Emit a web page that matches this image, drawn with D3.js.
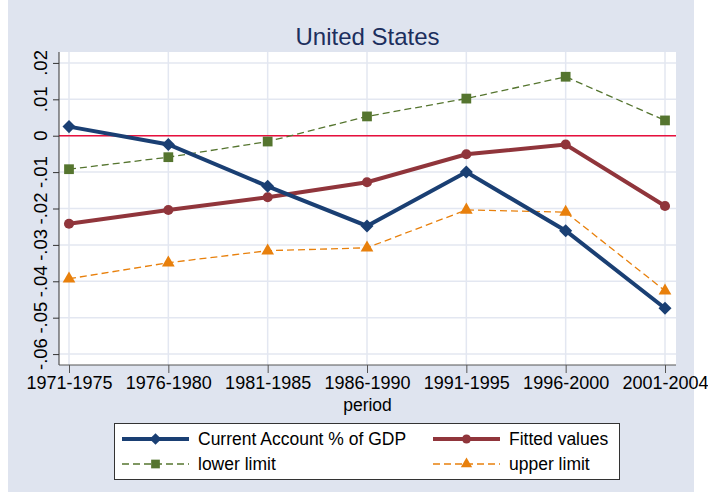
<!DOCTYPE html>
<html>
<head>
<meta charset="utf-8">
<script src="https://cdn.jsdelivr.net/npm/d3@7"></script>
<style>
  body { margin: 0; background: #fff; }
  text { font-family: "Liberation Sans", Arial, sans-serif; }
</style>
</head>
<body>
<script>
var periods = ['1971-1975', '1976-1980', '1981-1985', '1986-1990', '1991-1995', '1996-2000', '2001-2004'];
var currentAccount = [0.0025, -0.0024, -0.0139, -0.0248, -0.0100, -0.0261, -0.0474];
var fitted = [-0.0242, -0.0204, -0.0169, -0.0128, -0.0051, -0.0024, -0.0193];
var lowerLimit = [-0.0092, -0.0059, -0.0016, 0.0053, 0.0102, 0.0162, 0.0042];
var upperLimit = [-0.0393, -0.0349, -0.0316, -0.0308, -0.0204, -0.0210, -0.0426];
var yTicks = [0.02, 0.01, 0, -0.01, -0.02, -0.03, -0.04, -0.05, -0.06];
var yTickLabels = ['.02', '.01', '0', '-.01', '-.02', '-.03', '-.04', '-.05', '-.06'];

var width = 708, height = 502;
var plot = { left: 59, right: 676, top: 52, bottom: 365 };
var fontSize = '17.5px';

var svg = d3.select('body').append('svg')
  .attr('width', width)
  .attr('height', height);

// graph region
svg.append('rect')
  .attr('x', 8).attr('y', 0)
  .attr('width', 686).attr('height', 492)
  .attr('fill', '#dfe4ef');

svg.append('rect')
  .attr('x', plot.left).attr('y', plot.top)
  .attr('width', plot.right - plot.left).attr('height', plot.bottom - plot.top)
  .attr('fill', '#fff');

var x = d3.scalePoint().domain(periods).range([69, 665]);
var y = d3.scaleLinear().domain([-0.063, 0.023]).range([plot.bottom, plot.top]);

// grid
svg.append('g').selectAll('line')
  .data(yTicks)
  .enter().append('line')
  .attr('x1', plot.left).attr('x2', plot.right)
  .attr('y1', function(d) { return y(d); })
  .attr('y2', function(d) { return y(d); })
  .attr('stroke', '#e3e7f1')
  .attr('stroke-width', 1.5);

svg.append('g').selectAll('line')
  .data(periods)
  .enter().append('line')
  .attr('x1', function(d) { return x(d); })
  .attr('x2', function(d) { return x(d); })
  .attr('y1', plot.top).attr('y2', plot.bottom)
  .attr('stroke', '#e3e7f1')
  .attr('stroke-width', 1.5);

// zero line
svg.append('line')
  .attr('x1', plot.left).attr('x2', plot.right)
  .attr('y1', y(0)).attr('y2', y(0))
  .attr('stroke', '#e8103c')
  .attr('stroke-width', 1.5);

// axes
var yAxis = d3.axisLeft(y)
  .tickValues(yTicks)
  .tickSize(6)
  .tickFormat('');
var gy = svg.append('g')
  .attr('transform', 'translate(' + plot.left + ',0)')
  .call(yAxis);
gy.select('.domain').attr('stroke', '#333').attr('d', 'M0,' + plot.top + 'V' + plot.bottom);
gy.selectAll('.tick line').attr('stroke', '#333');

svg.append('g').selectAll('text')
  .data(yTicks)
  .enter().append('text')
  .attr('transform', function(d) { return 'translate(47,' + y(d) + ') rotate(-90)'; })
  .attr('text-anchor', 'middle')
  .style('font-size', '18.5px')
  .attr('fill', '#000')
  .text(function(d, i) { return yTickLabels[i]; });

var xAxis = d3.axisBottom(x).tickSize(8).tickSizeOuter(0);
var gx = svg.append('g')
  .attr('transform', 'translate(0,' + plot.bottom + ')')
  .call(xAxis);
gx.select('.domain').attr('stroke', '#555').attr('d', 'M' + plot.left + ',0H' + plot.right);
gx.selectAll('.tick line').attr('stroke', '#555');
gx.selectAll('.tick text')
  .attr('y', 11)
  .attr('fill', '#000')
  .style('font-size', '18px')
  .style('font-family', '"Liberation Sans", Arial, sans-serif');

svg.append('text')
  .attr('x', (plot.left + plot.right) / 2)
  .attr('y', 411)
  .attr('text-anchor', 'middle')
  .style('font-size', fontSize)
  .text('period');

svg.append('text')
  .attr('x', (plot.left + plot.right) / 2)
  .attr('y', 45)
  .attr('text-anchor', 'middle')
  .style('font-size', '24px')
  .attr('fill', '#1c2f5e')
  .text('United States');

// series
var series = [
  { name: 'lower limit', values: lowerLimit, color: '#55752f', width: 1.3, dash: '7,4', symbol: d3.symbolSquare, size: 95, rot: 0 },
  { name: 'upper limit', values: upperLimit, color: '#e8800c', width: 1.3, dash: '7,4', symbol: d3.symbolTriangle, size: 70, rot: 0 },
  { name: 'Fitted values', values: fitted, color: '#90353b', width: 4, dash: null, symbol: d3.symbolCircle, size: 80, rot: 0 },
  { name: 'Current Account % of GDP', values: currentAccount, color: '#1a3f73', width: 4, dash: null, symbol: d3.symbolSquare, size: 85, rot: 45 }
];

var line = d3.line()
  .x(function(d, i) { return x(periods[i]); })
  .y(function(d) { return y(d); });

series.forEach(function(s) {
  svg.append('path')
    .datum(s.values)
    .attr('d', line)
    .attr('fill', 'none')
    .attr('stroke', s.color)
    .attr('stroke-width', s.width)
    .attr('stroke-dasharray', s.dash);
  svg.append('g').selectAll('path')
    .data(s.values)
    .enter().append('path')
    .attr('transform', function(d, i) { return 'translate(' + x(periods[i]) + ',' + y(d) + ') rotate(' + s.rot + ')'; })
    .attr('d', d3.symbol().type(s.symbol).size(s.size))
    .attr('fill', s.color);
});

// legend
var legend = svg.append('g');
legend.append('rect')
  .attr('x', 114.5).attr('y', 423.5)
  .attr('width', 505).attr('height', 56)
  .attr('fill', '#fff')
  .attr('stroke', '#333')
  .attr('stroke-width', 1);

var legendItems = [
  { s: series[3], x: 122, y: 439 },
  { s: series[2], x: 433, y: 439 },
  { s: series[0], x: 122, y: 464 },
  { s: series[1], x: 433, y: 464 }
];

legendItems.forEach(function(it) {
  var s = it.s;
  legend.append('line')
    .attr('x1', it.x).attr('x2', it.x + 67)
    .attr('y1', it.y).attr('y2', it.y)
    .attr('stroke', s.color)
    .attr('stroke-width', s.width)
    .attr('stroke-dasharray', s.dash);
  legend.append('path')
    .attr('transform', 'translate(' + (it.x + 33.5) + ',' + it.y + ') rotate(' + s.rot + ')')
    .attr('d', d3.symbol().type(s.symbol).size(s.size * 0.8))
    .attr('fill', s.color);
  legend.append('text')
    .attr('x', it.x + 76)
    .attr('y', it.y + 6)
    .style('font-size', fontSize)
    .text(s.name);
});
</script>
</body>
</html>
